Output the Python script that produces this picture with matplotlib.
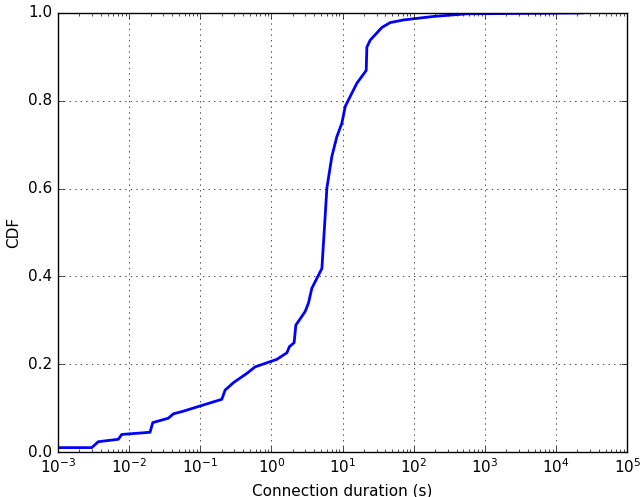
import matplotlib
matplotlib.use('Agg')
import matplotlib.pyplot as plt
import numpy as np

plt.style.use('classic')
plt.rcParams['font.size'] = 11
plt.rcParams['xtick.labelsize'] = 11
plt.rcParams['ytick.labelsize'] = 11
plt.rcParams['axes.labelsize'] = 11

# CDF of connection duration (log10 seconds, CDF)
log_duration = [-3.0, -2.526, -2.433, -2.152, -2.104, -1.706, -1.668, -1.449, -1.378,
                -1.238, -1.0, -0.698, -0.651, -0.534, -0.346, -0.229, 0.076, 0.217,
                0.253, 0.319, 0.343, 0.474, 0.52, 0.568, 0.709, 0.769, 0.779, 0.849,
                0.919, 0.99, 1.037, 1.083, 1.201, 1.332, 1.341, 1.388, 1.553, 1.669,
                1.857, 2.279, 2.748, 3.217, 4.365]
cdf = [0.01, 0.01, 0.0235, 0.029, 0.040, 0.045, 0.067, 0.077, 0.087,
       0.093, 0.105, 0.12, 0.141, 0.158, 0.179, 0.194, 0.211, 0.226,
       0.240, 0.249, 0.289, 0.320, 0.339, 0.373, 0.418, 0.574, 0.601, 0.673,
       0.718, 0.749, 0.787, 0.802, 0.840, 0.869, 0.922, 0.938, 0.967, 0.978,
       0.984, 0.992, 0.998, 0.9985, 1.0]

duration = 10 ** np.array(log_duration)

fig = plt.figure(figsize=(6.4, 4.97), dpi=100, facecolor='white')
ax = fig.add_subplot(111)
fig.subplots_adjust(left=0.0906, right=0.98, top=0.974, bottom=0.0905)

ax.plot(duration, cdf, color='b', linewidth=2)
ax.set_xscale('log')
ax.set_xlim(1e-3, 1e5)
ax.set_ylim(0, 1.0)
ax.set_xlabel('Connection duration (s)')
ax.set_ylabel('CDF')
ax.grid(True, color='k', linestyle=':')

fig.savefig('out.png', dpi=100, facecolor='white')
